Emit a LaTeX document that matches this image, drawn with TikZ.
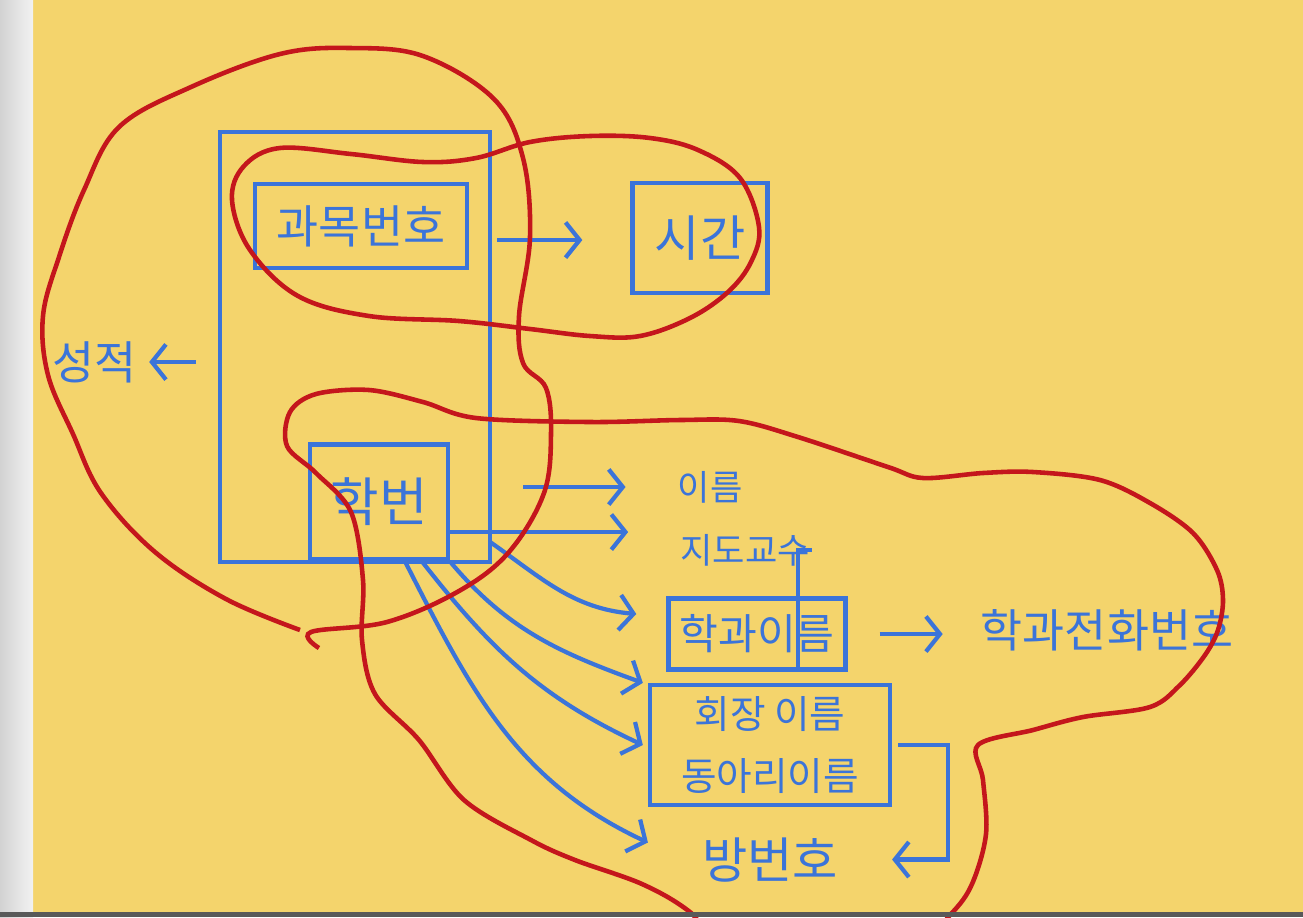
\documentclass[tikz,border=0pt]{standalone}
\usepackage{fontspec}
\setmainfont{Noto Sans CJK KR}
\usepackage{xcolor}
\usepackage{tikz}
\usetikzlibrary{arrows.meta, positioning}
\definecolor{pen}{HTML}{3B74D9}
\definecolor{marker}{HTML}{C4161C}
\definecolor{paper}{HTML}{F4D46C}

\begin{document}
\begin{tikzpicture}[x=0.01cm, y=-0.01cm, line width=1.2pt,
    box/.style={draw=pen, text=pen, inner sep=0pt, font=\fontsize{13}{17}\selectfont},
    lbl/.style={text=pen, inner sep=0pt, font=\fontsize{13}{17}\selectfont},
    arr/.style={draw=pen, -{Straight Barb[length=4pt, width=10pt]}},
    link/.style={draw=pen},
    blob/.style={draw=marker, line width=1.3pt}]
    \useasboundingbox (0,0) rectangle (1303,917);
    % Paper
    \fill[paper] (33,0) rectangle (1303,912);
    \shade[left color=gray!35, right color=gray!10] (0,0) rectangle (33,917);

    % Nodes
    \node[box, minimum width=2.7cm, minimum height=4.3cm] (key) at (355,347) {};
    \node[box, minimum width=2.12cm, minimum height=0.84cm] (gwamok) at (361,226) {과목번호};
    \node[box, minimum width=1.35cm, minimum height=1.1cm, font=\fontsize{14}{17}\selectfont] (sigan) at (700,238) {시간};
    \node[box, minimum width=1.38cm, minimum height=1.15cm, font=\fontsize{15}{18}\selectfont] (hakbeon) at (379,502) {학번};
    \node[lbl] (seong) at (95,362) {성적};
    \node[lbl, font=\fontsize{10}{12}\selectfont] (ireum) at (710,487) {이름};
    \node[lbl, font=\fontsize{10}{12}\selectfont] (jido) at (745,550) {지도교수};
    \node[box, minimum width=1.77cm, minimum height=0.71cm, font=\fontsize{12}{15}\selectfont] (hakgwa) at (757,634) {학과이름};
    \node[lbl] (phone) at (1107,630) {학과전화번호};
    \node[box, minimum width=2.4cm, minimum height=1.2cm, align=center, font=\fontsize{11}{17.5}\selectfont] (club) at (770,745) {회장 이름\\동아리이름};
    \node[lbl, below=0.28cm of club, font=\fontsize{14}{17}\selectfont] (bang) {방번호};
    \coordinate (gm) at ([yshift=-0.14cm]gwamok.east);
    \coordinate (hb) at ([yshift=-0.3cm]hakbeon.east);
    \coordinate (split) at (798,668);

    % Arrows
    \draw[arr, shorten <=0.22cm, shorten >=0.1cm] (key.west |- seong.east) -- (seong.east);
    \draw[arr, shorten <=0.28cm, shorten >=0.48cm] (gm) -- (gm -| sigan.west);
    \draw[arr, shorten <=0.73cm, shorten >=0.5cm] (hakbeon.east |- ireum.west) -- (ireum.west);
    \draw[arr, shorten >=0.5cm] (hb) -- (hb -| jido.west);
    \draw[arr] ([shift={(0.4cm,-0.4cm)}]hakbeon.east) to[out=-35, in=175] ([shift={(-0.3cm,0.2cm)}]hakgwa.west);
    \draw[arr] (hakbeon.south east) to[out=-50, in=160] ([xshift=-0.05cm]club.north west);
    \draw[arr] ([xshift=-0.28cm]hakbeon.south east) to[out=-52, in=155] ([xshift=-0.05cm]club.west);
    \draw[arr] ([xshift=-0.45cm]hakbeon.south east) to[out=-63, in=155] ([shift={(-0.52cm,0.17cm)}]bang.west);
    \draw[arr, shorten <=0.32cm, shorten >=0.36cm] (hakgwa.east) -- (hakgwa.east -| phone.west);
    \draw[link] (jido.east) -| (split);
    \draw[arr] ([xshift=0.06cm]club.east) -- ++(50,0) |- ([xshift=0.52cm]bang.east);

    % Red groups
    \draw[blob] plot[smooth, tension=0.6] coordinates {(319,648) (311,632) (387,622) (459,591) (509,552) (544,493) (551,434) (546,388) (523,363) (519,316) (530,237) (523,158) (494,99) (423,56) (350,48) (280,54) (191,87) (119,127) (84,190) (59,257) (43,316) (48,375) (73,434) (101,493) (155,552) (226,599) (300,630)};
    \draw[blob] plot[smooth cycle, tension=0.6] coordinates {(232,200) (244,166) (280,148) (351,154) (423,162) (476,158) (530,142) (590,136) (650,138) (698,150) (740,178) (759,227) (751,262) (728,292) (690,318) (640,336) (590,336) (530,329) (459,321) (369,316) (298,296) (250,250)};
    \draw[blob] plot[smooth cycle, tension=0.55] coordinates {(287,446) (290,412) (316,394) (369,390) (423,402) (476,418) (590,422) (680,420) (739,421) (798,437) (888,467) (923,478) (983,473) (1033,472) (1100,480) (1150,503) (1193,533) (1217,570) (1223,600) (1218,630) (1205,655) (1180,685) (1150,707) (1083,717) (1033,730) (978,745) (983,780) (986,834) (972,884) (950,915) (900,960) (740,960) (690,912) (642,884) (575,860) (531,840) (464,800) (419,740) (375,694) (362,640) (363,580) (351,512) (316,473)};

    \fill[gray!70!black] (0,912) rectangle (1303,917);
\end{tikzpicture}
\end{document}
